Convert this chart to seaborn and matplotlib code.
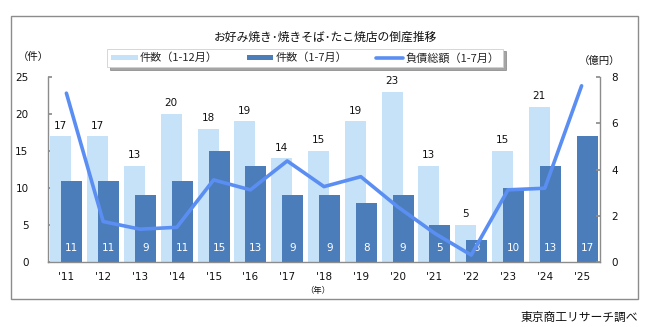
import numpy as np
import pandas as pd
import matplotlib
matplotlib.use("Agg")
import matplotlib.pyplot as plt
from matplotlib.patches import Rectangle, Patch
from matplotlib.lines import Line2D
import seaborn as sns

years = ["'11", "'12", "'13", "'14", "'15", "'16", "'17", "'18", "'19", "'20", "'21", "'22", "'23", "'24", "'25"]
count_full = [17, 17, 13, 20, 18, 19, 14, 15, 19, 23, 13, 5, 15, 21, np.nan]
count_jul = [11, 11, 9, 11, 15, 13, 9, 9, 8, 9, 5, 3, 10, 13, 17]
debt_jul = [7.3, 1.75, 1.42, 1.5, 3.55, 3.12, 4.37, 3.26, 3.69, 2.39, 1.25, 0.3, 3.12, 3.19, 7.62]

title = "お好み焼き･焼きそば･たこ焼店の倒産推移"
legend_labels = ["件数（1-12月）", "件数（1-7月）", "負債総額（1-7月）"]

LIGHT = "#c5e2f8"
DARK = "#4a7dba"
LINE = "#5b8ef2"
GRAY = "#8c8c8c"

sns.set_theme(style="white")
plt.rcParams["font.family"] = ["DejaVu Sans", "Noto Sans CJK JP"]
JP = ["Noto Sans CJK JP", "DejaVu Sans"]

df = pd.DataFrame({"year": years, "full": count_full, "jul": count_jul, "debt": debt_jul})

fig = plt.figure(figsize=(6.47, 3.27), dpi=100)
ax = fig.add_axes([48 / 647, 1 - 262 / 327, (600 - 48) / 647, (262 - 77) / 327])

W = 0.57
OFF = 0.15
sns.barplot(data=df, x="year", y="full", order=years, color=LIGHT, width=W,
            saturation=1, ax=ax, errorbar=None, linewidth=0, edgecolor="none")
n_light = len(ax.patches)
for p in ax.patches:
    p.set_x(p.get_x() - OFF)
sns.barplot(data=df, x="year", y="jul", order=years, color=DARK, width=W,
            saturation=1, ax=ax, errorbar=None, linewidth=0, edgecolor="none")
for p in ax.patches[n_light:]:
    p.set_x(p.get_x() + OFF)

xs = np.arange(len(years))
for i, v in enumerate(count_full):
    if not np.isnan(v):
        ax.annotate(f"{int(v)}", (i - OFF, v), xytext=(0, 4), textcoords="offset points",
                    ha="center", va="bottom", fontsize=7.5, color="#111111")
for i, v in enumerate(count_jul):
    ax.annotate(f"{v}", (i + OFF, 0), xytext=(0, 10), textcoords="offset points",
                ha="center", va="center", fontsize=7.5, color="white")

ax.set_ylim(0, 25)
ax.set_xlim(-0.5, len(years) - 0.5)
ax.set_yticks([0, 5, 10, 15, 20, 25])
ax.set_xlabel("")
ax.set_ylabel("")
ax.tick_params(axis="y", direction="in", length=3, color=GRAY, labelsize=7.5, pad=14, labelcolor="#111111")
ax.tick_params(axis="x", which="major", length=0, labelsize=7.5, pad=7, labelcolor="#111111")
ax.set_xticks(np.arange(0.5, len(years) - 0.5), minor=True)
ax.tick_params(axis="x", which="minor", direction="in", length=3, color=GRAY)
for s in ["top", "right"]:
    ax.spines[s].set_visible(False)
for s in ["left", "bottom"]:
    ax.spines[s].set_color(GRAY)
    ax.spines[s].set_linewidth(1)

ax2 = ax.twinx()
sns.lineplot(x=xs, y=debt_jul, ax=ax2, color=LINE, linewidth=2.6)
ax2.set_ylim(0, 8)
ax2.set_yticks([0, 2, 4, 6, 8])
ax2.set_ylabel("")
ax2.tick_params(axis="y", direction="in", length=3, color=GRAY, labelsize=7.5, pad=8, labelcolor="#111111")
for s in ["top", "left", "bottom"]:
    ax2.spines[s].set_visible(False)
ax2.spines["right"].set_color(GRAY)
ax2.spines["right"].set_linewidth(1)
ax2.set_xlim(-0.5, len(years) - 0.5)

handles = [Patch(facecolor=LIGHT, edgecolor="none"),
           Patch(facecolor=DARK, edgecolor="none"),
           Line2D([0], [0], color=LINE, linewidth=2.6)]
leg = fig.legend(handles, legend_labels, loc="center", bbox_to_anchor=(305 / 647, 1 - 58 / 327),
                 ncol=3, frameon=True, shadow=True, fancybox=False, handlelength=2.4,
                 handleheight=0.4, handletextpad=0.2, columnspacing=2.6, borderpad=0.35,
                 prop={"family": JP, "size": 8})
leg.get_frame().set_edgecolor("#d0d0d0")
leg.get_frame().set_linewidth(0.6)

fig.text(325 / 647, 1 - 37 / 327, title, ha="center", va="center", fontsize=8.5, family=JP, color="#111111")
fig.text(33 / 647, 1 - 57 / 327, "（件）", ha="center", va="center", fontsize=7.5, family=JP, color="#111111")
fig.text(600 / 647, 1 - 61 / 327, "（億円）", ha="center", va="center", fontsize=7.5, family=JP, color="#111111")
fig.text(318 / 647, 1 - 291 / 327, "（年）", ha="center", va="center", fontsize=6, family=JP, color="#111111")
fig.text(638 / 647, 1 - 317 / 327, "東京商工リサーチ調べ", ha="right", va="center", fontsize=8.5, family=JP, color="#111111")

fig.patches.append(Rectangle((11 / 647, 1 - 299 / 327), (638 - 11) / 647, (299 - 16) / 327,
                             transform=fig.transFigure, fill=False, edgecolor=GRAY, linewidth=1))

fig.savefig("out.png", dpi=100)
